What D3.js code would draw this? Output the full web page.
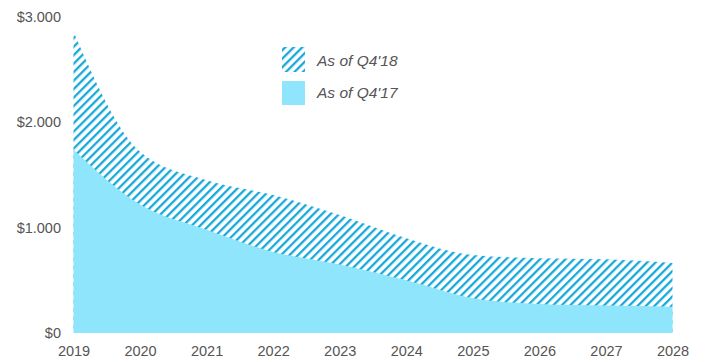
<!DOCTYPE html>
<html><head><meta charset="utf-8">
<script src="https://cdn.jsdelivr.net/npm/d3@7"></script>
<style>body{margin:0;background:#fff}svg{display:block}</style>
</head><body>
<svg id="c" width="706" height="362"></svg>
<script>
const years = [2019,2020,2021,2022,2023,2024,2025,2026,2027,2028];
const asOfQ418 = [2860,1720,1450,1310,1120,900,740,710,700,665];
const asOfQ417 = [1740,1220,980,770,650,500,330,275,260,250];
const yTicks = [0,1000,2000,3000];
const yTickLabels = ["$0","$1.000","$2.000","$3.000"];
const seriesNames = ["As of Q4'18","As of Q4'17"];

const svg = d3.select("#c");
const x = d3.scaleLinear().domain([2019,2028]).range([73.5,672.5]);
const y = d3.scaleLinear().domain([0,3000]).range([333,17]);

const defs = svg.append("defs");
const pat = defs.append("pattern").attr("id","hatch").attr("patternUnits","userSpaceOnUse")
  .attr("width",6).attr("height",6).attr("patternTransform","rotate(45)");
pat.append("rect").attr("width",6).attr("height",6).attr("fill","#fff");
pat.append("rect").attr("x",0).attr("y",0).attr("width",2.3).attr("height",6).attr("fill","#19a9d9");

const area = (vals) => d3.area().x((d,i)=>x(years[i])).y0(y(0)).y1(d=>y(d)).curve(d3.curveMonotoneX)(vals);
svg.append("path").attr("d",area(asOfQ418)).attr("fill","url(#hatch)");
svg.append("path").attr("d",area(asOfQ417)).attr("fill","#8ee5fc");

const font = "Liberation Sans, Arial, sans-serif";
const yAxis = d3.axisLeft(y).tickValues(yTicks).tickFormat((d,i)=>yTickLabels[i]).tickSize(0).tickPadding(0);
const ga = svg.append("g").attr("transform","translate(61,0)").call(yAxis);
ga.select(".domain").remove();
ga.selectAll("text").attr("font-family",font).attr("font-size",14.5).attr("fill","#555");

const xAxis = d3.axisBottom(x).tickValues(years).tickFormat(d3.format("d")).tickSize(0).tickPadding(0);
const gx = svg.append("g").attr("transform","translate(0,346)").call(xAxis);
gx.select(".domain").remove();
gx.selectAll("text").attr("font-family",font).attr("font-size",14.5).attr("fill","#555");

const leg = svg.append("g");
leg.append("rect").attr("x",282).attr("y",47).attr("width",23).attr("height",25).attr("fill","url(#hatch)");
leg.append("rect").attr("x",282).attr("y",81).attr("width",23).attr("height",24).attr("fill","#8ee5fc");
leg.selectAll("text.l").data(seriesNames).join("text").attr("class","l")
  .attr("x",317).attr("y",(d,i)=>66+i*32).text(d=>d)
  .attr("font-family",font).attr("font-style","italic")
  .attr("font-size",15.5).attr("fill","#555");
</script>
</body></html>
